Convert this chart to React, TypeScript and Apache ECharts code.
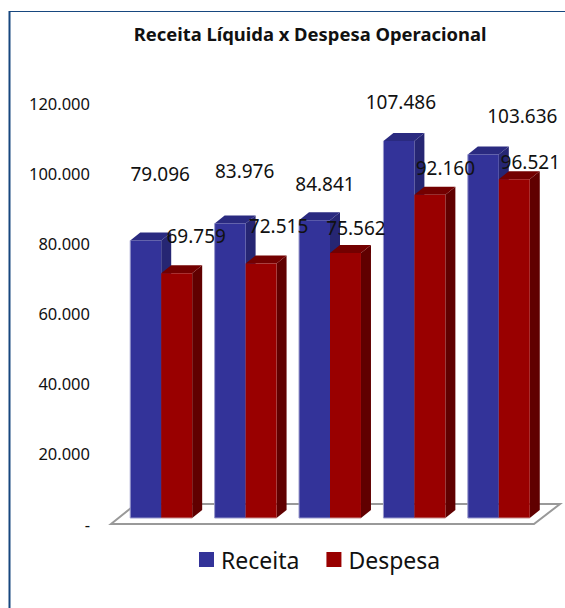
import React, { useEffect, useRef } from "react";
import * as echarts from "echarts";

const categories = ["A", "B", "C", "D", "E"];
const receita = [79096, 83976, 84841, 107486, 103636];
const despesa = [69759, 72515, 75562, 92160, 96521];
const yTicks = { min: 0, max: 120000, interval: 20000 };

// label offsets from the top centre of each bar's front face
const receitaLabelDx = [14.5, 14.5, 10.5, 2, 39];
const receitaLabelDy = [-67, -52, -36, -39, -38];
const despesaLabelDx = [19.5, 17.5, 10.5, 15.5, 16];
const despesaLabelDy = [-37, -38, -25, -27, -17];

const FONT = "'Noto Sans', sans-serif";
const BAR_RATIO = 0.367;
const DX = 10;
const DY = 8;
const LIFT = 6;

const fmt = (v: number) =>
  v === 0 ? "-" : String(v).replace(/\B(?=(\d{3})+$)/g, ".");

function barRenderer(
  side: -1 | 1,
  front: string,
  top: string,
  right: string,
  edge: string,
  ldx: number[],
  ldy: number[]
) {
  return (params: any, api: any) => {
    const i = api.value(0);
    const v = api.value(1);
    const [cx, yTop0] = api.coord([i, v]);
    const [, yBase0] = api.coord([i, 0]);
    const w = api.size([1, 0])[0] * BAR_RATIO;
    const x0 = side < 0 ? cx - w : cx;
    const x1 = x0 + w;
    const yT = yTop0 - LIFT;
    const yB = yBase0 - LIFT;
    const label = fmt(v);
    const edgeLines =
      side < 0
        ? [[[x0, yT], [x0, yB], [x1, yB]]]
        : [[[x0, yB], [x1, yB]]];
    return {
      type: "group",
      children: [
        {
          type: "polygon",
          shape: { points: [[x1, yT], [x1 + DX, yT - DY], [x1 + DX, yB - DY], [x1, yB]] },
          style: { fill: right },
        },
        {
          type: "polygon",
          shape: { points: [[x0, yT], [x0 + DX, yT - DY], [x1 + DX, yT - DY], [x1, yT]] },
          style: { fill: top },
        },
        {
          type: "rect",
          shape: { x: x0, y: yT, width: w, height: yB - yT },
          style: { fill: front },
        },
        ...edgeLines.map((pts) => ({
          type: "polyline",
          shape: { points: pts },
          style: { fill: "none", stroke: edge, lineWidth: 1 },
        })),
        {
          type: "text",
          z2: 10,
          x: (x0 + x1) / 2 + ldx[i],
          y: yT + ldy[i],
          style: {
            text: label,
            font: `19px ${FONT}`,
            fill: "#111",
            align: "center",
            verticalAlign: "middle",
          },
        },
      ],
    };
  };
}

export default function App() {
  const ref = useRef<HTMLDivElement>(null);
  useEffect(() => {
    document.body.style.margin = "0";
    const chart = echarts.init(ref.current!, undefined, { renderer: "svg" });
    const cats = categories.map((_, i) => i);
    chart.setOption({
      animation: false,
      backgroundColor: "#fff",
      title: {
        text: "Receita Líquida x Despesa Operacional",
        left: 305,
        textAlign: "center",
        top: 19,
        textStyle: { fontFamily: FONT, fontSize: 18.4, fontWeight: "bold", color: "#111" },
      },
      grid: { left: 119, top: 103, width: 422, height: 421 },
      xAxis: {
        type: "category",
        data: categories,
        axisLine: { show: false },
        axisTick: { show: false },
        axisLabel: { show: false },
      },
      yAxis: {
        type: "value",
        min: yTicks.min,
        max: yTicks.max,
        interval: yTicks.interval,
        splitLine: { show: false },
        axisLine: { show: false },
        axisTick: { show: false },
        axisLabel: {
          formatter: fmt,
          fontFamily: FONT,
          fontSize: 16.5,
          color: "#111",
          margin: 29,
        },
      },
      legend: {
        left: 194,
        top: 543,
        itemWidth: 15,
        itemHeight: 15,
        itemGap: 27,
        icon: "rect",
        textStyle: { fontFamily: FONT, fontSize: 23, color: "#111", padding: [0, 0, 0, 2] },
        data: [
          { name: "Receita", itemStyle: { color: "#333399" } },
          { name: "Despesa", itemStyle: { color: "#990000" } },
        ],
      },
      graphic: [
        {
          type: "line",
          z: -1,
          shape: { x1: 9.5, y1: 11.5, x2: 565, y2: 11.5 },
          style: { stroke: "#17477f", lineWidth: 1 },
        },
        {
          type: "line",
          z: -1,
          shape: { x1: 9.5, y1: 11, x2: 9.5, y2: 608 },
          style: { stroke: "#17477f", lineWidth: 2 },
        },
        {
          type: "polygon",
          z: -1,
          shape: { points: [[111, 524], [136, 504], [560, 504], [534, 524]] },
          style: { fill: "#fff", stroke: "#999999", lineWidth: 2 },
        },
      ],
      series: [
        {
          name: "Receita",
          type: "custom",
          itemStyle: { color: "#333399" },
          renderItem: barRenderer(-1, "#333399", "#2a2a80", "#262673", "#9a9acc", receitaLabelDx, receitaLabelDy),
          encode: { x: 0, y: 1 },
          data: cats.map((i) => [i, receita[i]]),
          z: 3,
        },
        {
          name: "Despesa",
          type: "custom",
          itemStyle: { color: "#990000" },
          renderItem: barRenderer(1, "#990000", "#730000", "#600000", "#c89090", despesaLabelDx, despesaLabelDy),
          encode: { x: 0, y: 1 },
          data: cats.map((i) => [i, despesa[i]]),
          z: 4,
        },
      ],
    });
    return () => chart.dispose();
  }, []);
  return <div ref={ref} style={{ width: 565, height: 608 }} />;
}
